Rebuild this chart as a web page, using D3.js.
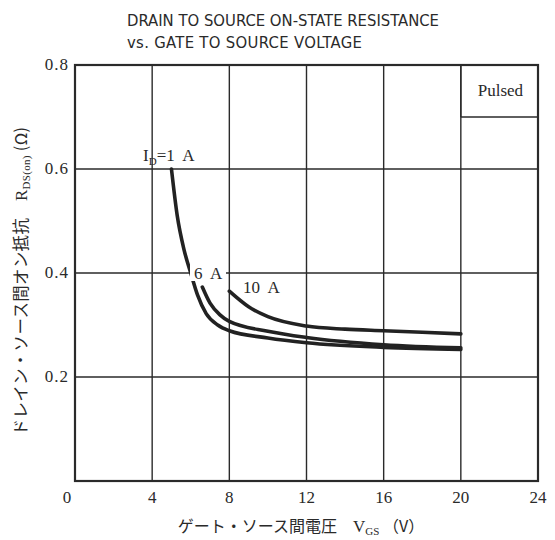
<!DOCTYPE html>
<html>
<head>
<meta charset="utf-8">
<script src="https://cdn.jsdelivr.net/npm/d3@7"></script>
<style>
  body { margin: 0; background: #fff; }
  svg { display: block; }
  svg text { white-space: pre; }
</style>
</head>
<body>
<svg id="chart" width="555" height="540"></svg>
<script>
// x ticks (V_GS) and y ticks (R_DS(on))
const xTicks = [0, 4, 8, 12, 16, 20, 24];
const yTicks = [0, 0.2, 0.4, 0.6, 0.8];

// curves: [V_GS, R_DS(on)]
const curve1A = [[5.0, 0.60], [5.3, 0.51], [5.65, 0.445], [6.0, 0.40], [6.35, 0.358], [6.8, 0.322], [7.4, 0.300], [8, 0.289], [10, 0.275], [12, 0.266], [16, 0.257], [20, 0.253]];
const curve6A = [[6.6, 0.373], [7.0, 0.342], [7.5, 0.32], [8, 0.307], [10, 0.288], [12, 0.276], [16, 0.262], [20, 0.256]];
const curve10A = [[8, 0.365], [9, 0.335], [10, 0.316], [12, 0.298], [14, 0.292], [16, 0.289], [20, 0.283]];

const svg = d3.select("#chart");
const plotL = 75, plotR = 538, plotT = 65, plotB = 481;

const x = d3.scaleLinear().domain([0, 24]).range([plotL, plotR]);
const y = d3.scaleLinear().domain([0, 0.8]).range([plotB, plotT]);

const ink = "#2a2a2a";
const serif = "'Liberation Serif', 'DejaVu Serif', serif";
const narrow = "'Liberation Sans Narrow', 'DejaVu Sans Condensed', sans-serif";
const cjk = "'Noto Sans CJK JP', sans-serif";

// title
svg.append("text")
    .attr("x", 127).attr("y", 26)
    .attr("font-family", narrow)
    .attr("font-size", 16.5).attr("fill", ink)
    .attr("textLength", 312)
    .text("DRAIN TO SOURCE ON-STATE RESISTANCE");
svg.append("text")
    .attr("x", 127).attr("y", 48)
    .attr("font-family", narrow)
    .attr("font-size", 16.5).attr("fill", ink)
    .attr("textLength", 235)
    .text("vs. GATE TO SOURCE VOLTAGE");

// grid
svg.append("g").selectAll("line")
    .data(xTicks.slice(1, -1))
    .join("line")
    .attr("x1", d => x(d)).attr("x2", d => x(d))
    .attr("y1", plotT).attr("y2", plotB)
    .attr("stroke", ink).attr("stroke-width", 1.4);

svg.append("g").selectAll("line")
    .data(yTicks.slice(1, -1))
    .join("line")
    .attr("x1", plotL).attr("x2", plotR)
    .attr("y1", d => y(d)).attr("y2", d => y(d))
    .attr("stroke", ink).attr("stroke-width", 1.4);

// "Pulsed" box
svg.append("line")
    .attr("x1", x(20)).attr("x2", plotR)
    .attr("y1", plotT + 52).attr("y2", plotT + 52)
    .attr("stroke", ink).attr("stroke-width", 1.4);
svg.append("line")
    .attr("x1", x(20)).attr("x2", x(20))
    .attr("y1", plotT).attr("y2", plotT + 52)
    .attr("stroke", ink).attr("stroke-width", 1.4);
svg.append("text")
    .attr("x", (x(20) + plotR) / 2 + 1).attr("y", plotT + 31)
    .attr("text-anchor", "middle")
    .attr("font-family", serif).attr("font-size", 17).attr("fill", ink)
    .text("Pulsed");

// curves
const line = d3.line()
    .x(d => x(d[0])).y(d => y(d[1]))
    .curve(d3.curveMonotoneX);

[curve1A, curve6A, curve10A].forEach(c => {
    svg.append("path")
        .attr("d", line(c))
        .attr("fill", "none")
        .attr("stroke", "#222")
        .attr("stroke-width", 3.6)
        .attr("stroke-linecap", "round");
});

// curve labels
const lbl = svg.append("text")
    .attr("x", 143).attr("y", 161)
    .attr("font-family", serif).attr("font-size", 17).attr("fill", ink);
lbl.append("tspan").text("I");
lbl.append("tspan").attr("font-size", 11).attr("dy", 4).text("D");
lbl.append("tspan").attr("dy", -4).text("=1  A");

svg.append("rect")
    .attr("x", 190).attr("y", 264).attr("width", 36).attr("height", 17)
    .attr("fill", "#fff");
svg.append("text")
    .attr("x", 194).attr("y", 279)
    .attr("font-family", serif).attr("font-size", 17).attr("fill", ink)
    .text("6  A");
svg.append("text")
    .attr("x", 243).attr("y", 293)
    .attr("font-family", serif).attr("font-size", 17).attr("fill", ink)
    .text("10  A");

// frame
svg.append("rect")
    .attr("x", plotL).attr("y", plotT)
    .attr("width", plotR - plotL).attr("height", plotB - plotT)
    .attr("fill", "none").attr("stroke", ink).attr("stroke-width", 2.2);

// tick labels
svg.append("g").selectAll("text")
    .data(xTicks)
    .join("text")
    .attr("x", d => x(d) - (d === 0 ? 8 : 0)).attr("y", 503)
    .attr("text-anchor", "middle")
    .attr("font-family", serif).attr("font-size", 17).attr("fill", ink)
    .text(d => d);

svg.append("g").selectAll("text")
    .data(yTicks.slice(1))
    .join("text")
    .attr("x", 69).attr("y", d => y(d) + 5)
    .attr("text-anchor", "end")
    .attr("font-family", serif).attr("font-size", 17).attr("fill", ink)
    .attr("letter-spacing", 1)
    .text(d => d.toFixed(1));

// axis titles
const xt = svg.append("text")
    .attr("x", 301).attr("y", 532)
    .attr("text-anchor", "middle")
    .attr("font-family", cjk)
    .attr("font-size", 16).attr("fill", ink);
xt.append("tspan").text("ゲート・ソース間電圧　");
xt.append("tspan").attr("font-family", serif).attr("font-size", 17).text("V");
xt.append("tspan").attr("font-family", serif).attr("font-size", 11).attr("dy", 3).text("GS");
xt.append("tspan").attr("dy", -3).text(" （V）");

const yt = svg.append("text")
    .attr("transform", "translate(27,281) rotate(-90)")
    .attr("text-anchor", "middle")
    .attr("font-family", cjk)
    .attr("font-size", 16.5).attr("fill", ink)
    .attr("letter-spacing", 0.3);
yt.append("tspan").text("ドレイン・ソース間オン抵抗　");
yt.append("tspan").attr("font-family", serif).attr("font-size", 17).text("R");
yt.append("tspan").attr("font-family", serif).attr("font-size", 11).attr("dy", 3).text("DS(on)");
yt.append("tspan").attr("dy", -3).text(" (Ω)");
</script>
</body>
</html>
